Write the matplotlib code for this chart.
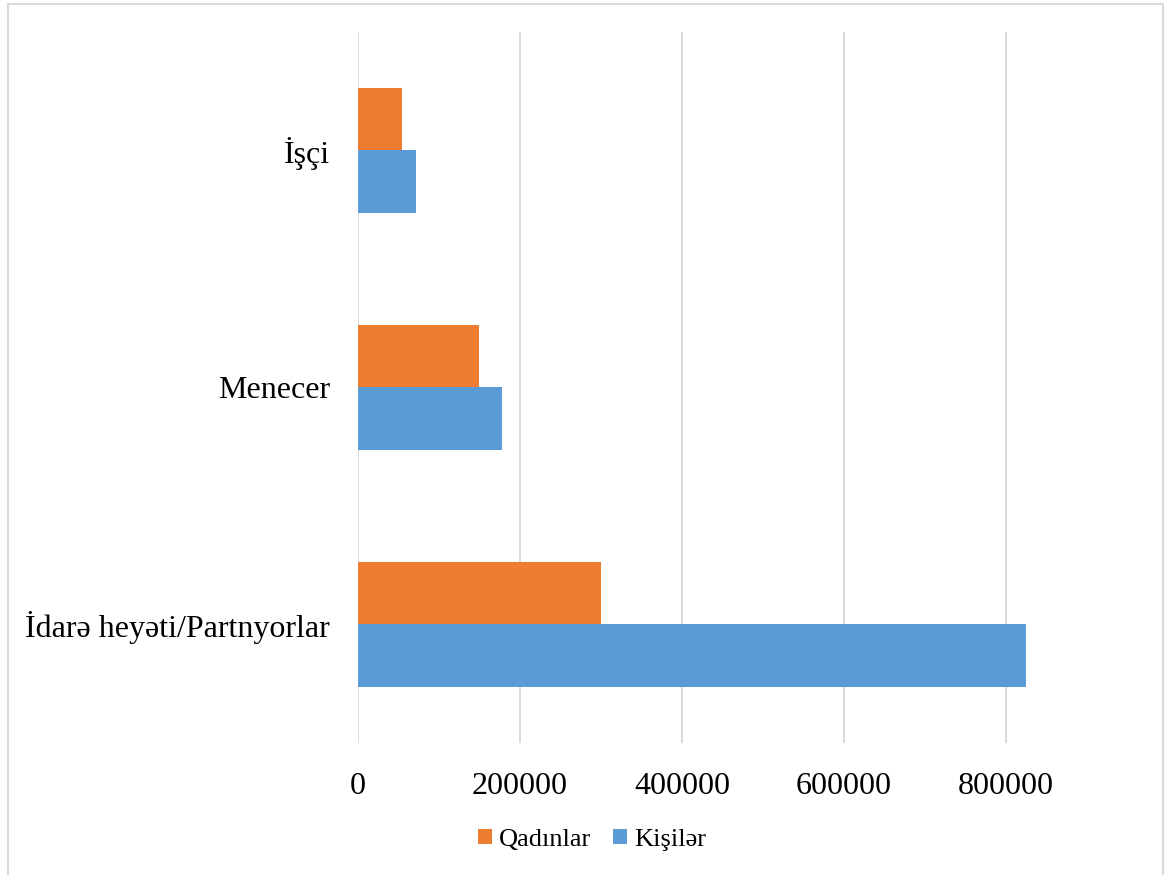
import numpy as np
import matplotlib
matplotlib.use('Agg')
import matplotlib.pyplot as plt
from matplotlib.patches import Patch, Rectangle

plt.rcParams['font.family'] = ['Liberation Serif', 'DejaVu Serif']

# Categories (bottom to top) and values for each series
categories = ['İdarə heyəti/Partnyorlar', 'Menecer', 'İşçi']
qadinlar   = [300000, 149000, 54000]
kisiler    = [825000, 178000, 72000]
xticks     = [0, 200000, 400000, 600000, 800000]

c_qad = '#ED7D31'
c_kis = '#5B9BD5'
grid  = '#d9d9d9'

fig = plt.figure(figsize=(11.68, 8.75), dpi=100)
W, H = 1168, 875
ax = fig.add_axes([358/W, 1 - 743/H, (1087 - 358)/W, (743 - 32)/H])

y  = np.arange(len(categories))
bh = 0.262
ax.barh(y + bh/2, qadinlar, height=bh, color=c_qad, zorder=2, label='Qadınlar')
ax.barh(y - bh/2, kisiler, height=bh, color=c_kis, zorder=2, label='Kişilər')

ax.set_xlim(0, 900000)
ax.set_ylim(-0.5, 2.5)
ax.set_xticks(xticks)
ax.set_xticklabels([str(v) for v in xticks])
ax.set_yticks(y)
ax.set_yticklabels(categories)
ax.tick_params(axis='x', length=0, pad=21, labelsize=23)
ax.tick_params(axis='y', length=0, pad=20, labelsize=23)
for s in ax.spines.values():
    s.set_visible(False)
ax.xaxis.grid(True, color=grid, lw=1.4, zorder=0)
ax.set_axisbelow(True)

# Legend below the axis
handles = [Patch(facecolor=c_qad, edgecolor='none'), Patch(facecolor=c_kis, edgecolor='none')]
fig.legend(handles, ['Qadınlar', 'Kişilər'], loc='center', bbox_to_anchor=(592/W, 1 - 840/H),
           ncol=2, frameon=False, fontsize=19, handlelength=0.53, handleheight=0.5,
           handletextpad=0.25, columnspacing=0.85)

# Chart frame
fig.patches.append(Rectangle((8/W, -0.05), (1163 - 8)/W, 1.05 - 4/H, transform=fig.transFigure,
                             fill=False, edgecolor=grid, lw=1.5))

fig.savefig('out.png', dpi=100)
